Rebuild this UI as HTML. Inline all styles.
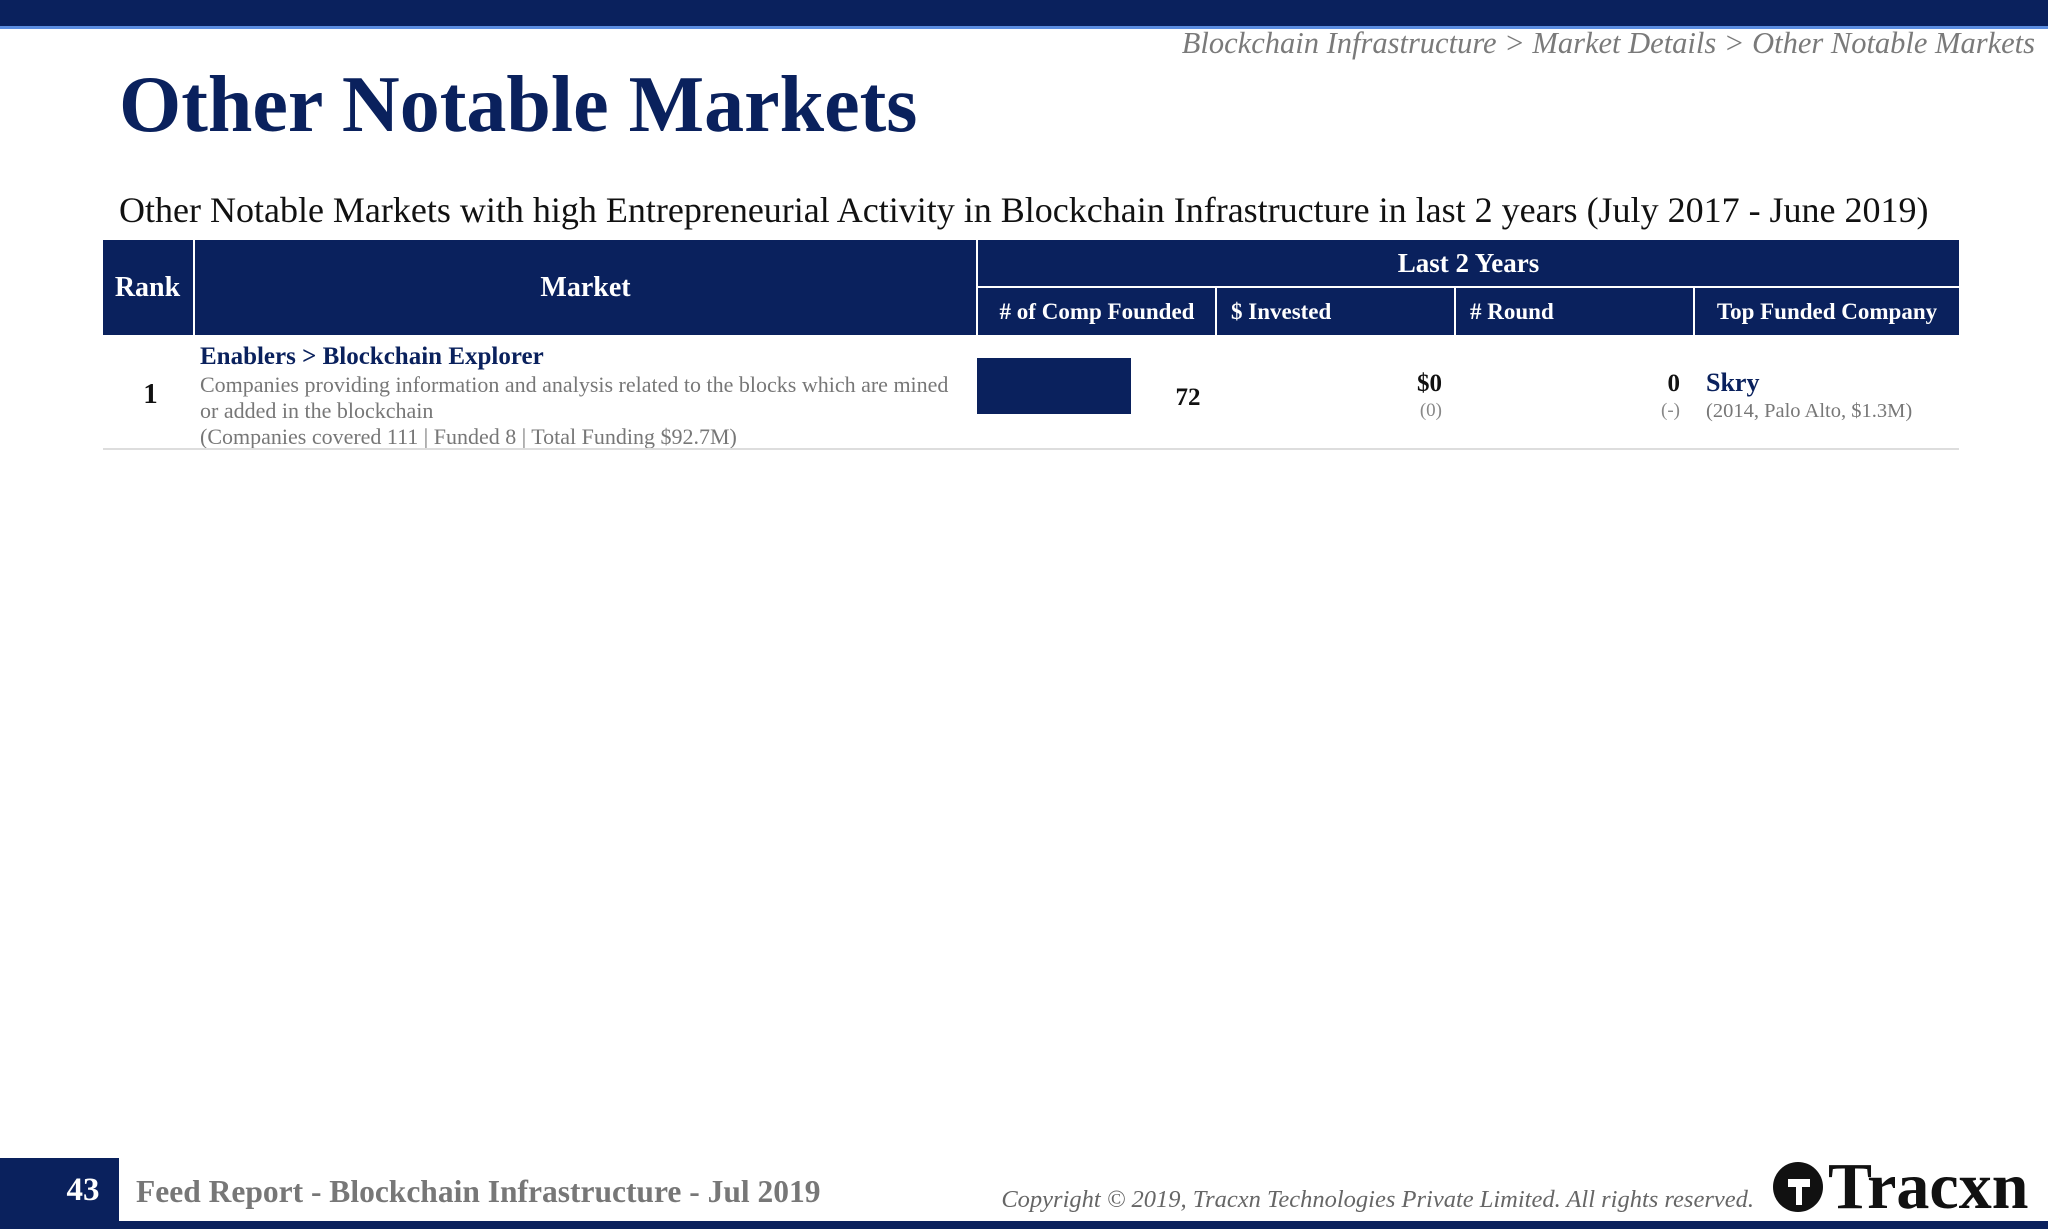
<!DOCTYPE html>
<html><head><meta charset="utf-8">
<style>
*{margin:0;padding:0;box-sizing:border-box}
body{width:2048px;height:1229px;background:#fff;position:relative;overflow:hidden;font-family:"Liberation Serif",serif;color:#111}
.abs{position:absolute;white-space:nowrap}
.navy{background:#0a215d}
</style></head>
<body>
<div class="abs navy" style="left:0;top:0;width:2048px;height:26px"></div>
<div class="abs" style="left:0;top:26px;width:2048px;height:3px;background:#5b8de0"></div>
<div class="abs" style="right:13px;top:26px;font-size:30.5px;font-style:italic;color:#7a7a7a">Blockchain Infrastructure &gt; Market Details &gt; Other Notable Markets</div>
<div class="abs" style="left:119px;top:60px;font-size:80px;font-weight:bold;color:#0a215d">Other Notable Markets</div>
<div class="abs" style="left:119px;top:189px;font-size:36px;color:#111">Other Notable Markets with high Entrepreneurial Activity in Blockchain Infrastructure in last 2 years (July 2017 - June 2019)</div>

<div class="abs navy" style="left:103px;top:240px;width:1856px;height:95px"></div>
<div class="abs" style="left:103px;top:240px;width:89px;height:95px;color:#fff;font-weight:bold;font-size:28px;display:flex;align-items:center;justify-content:center">Rank</div>
<div class="abs" style="left:193px;top:240px;width:783px;height:95px;border-left:2px solid #fff;color:#fff;font-weight:bold;font-size:28px;display:flex;align-items:center;justify-content:center">Market</div>
<div class="abs" style="left:976px;top:240px;width:983px;height:48px;border-left:2px solid #fff;border-bottom:2px solid #fff;color:#fff;font-weight:bold;font-size:27px;display:flex;align-items:center;justify-content:center">Last 2 Years</div>
<div class="abs" style="left:976px;top:288px;width:240px;height:47px;border-left:2px solid #fff;color:#fff;font-weight:bold;font-size:23px;display:flex;align-items:center;justify-content:center"># of Comp Founded</div>
<div class="abs" style="left:1215px;top:288px;width:239px;height:47px;border-left:2px solid #fff;color:#fff;font-weight:bold;font-size:23px;display:flex;align-items:center;padding-left:14px">$ Invested</div>
<div class="abs" style="left:1454px;top:288px;width:240px;height:47px;border-left:2px solid #fff;color:#fff;font-weight:bold;font-size:23px;display:flex;align-items:center;padding-left:14px"># Round</div>
<div class="abs" style="left:1693px;top:288px;width:266px;height:47px;border-left:2px solid #fff;color:#fff;font-weight:bold;font-size:23px;display:flex;align-items:center;justify-content:center">Top Funded Company</div>

<div class="abs" style="left:103px;top:378px;width:95px;text-align:center;font-size:29px;font-weight:bold">1</div>
<div class="abs" style="left:200px;top:343px;font-size:25px;font-weight:bold;color:#0a215d">Enablers &gt; Blockchain Explorer</div>
<div class="abs" style="left:200px;top:372px;font-size:22px;color:#777;line-height:26px">Companies providing information and analysis related to the blocks which are mined<br>or added in the blockchain<br>(Companies covered 111 | Funded 8 | Total Funding $92.7M)</div>
<svg class="abs" id="bars" style="left:976px;top:336px" width="240" height="112"></svg>
<div class="abs" style="right:606px;top:370px;font-size:25px;font-weight:bold;text-align:right">$0</div>
<div class="abs" style="right:606px;top:400px;font-size:19px;color:#888">(0)</div>
<div class="abs" style="right:368px;top:370px;font-size:25px;font-weight:bold">0</div>
<div class="abs" style="right:368px;top:400px;font-size:19px;color:#888">(-)</div>
<div class="abs" style="left:1706px;top:368px;font-size:26px;font-weight:bold;color:#0a215d">Skry</div>
<div class="abs" style="left:1706px;top:400px;font-size:20.5px;color:#777">(2014, Palo Alto, $1.3M)</div>
<div class="abs" style="left:103px;top:448px;width:1856px;height:2px;background:#ddd"></div>

<div class="abs navy" style="left:0;top:1158px;width:119px;height:71px"></div>
<div class="abs" style="left:0;top:1172px;width:166px;text-align:center;font-size:33px;font-weight:bold;color:#fff">43</div>
<div class="abs navy" style="left:0;top:1221px;width:2048px;height:8px"></div>
<div class="abs" style="left:136px;top:1174px;font-size:31.5px;font-weight:bold;color:#777">Feed Report - Blockchain Infrastructure - Jul 2019</div>
<div class="abs" style="right:294px;top:1186px;font-size:24.5px;font-style:italic;color:#666">Copyright © 2019, Tracxn Technologies Private Limited. All rights reserved.</div>
<div class="abs" style="left:1770px;top:1156px;height:62px;display:flex;align-items:center">
<svg width="56" height="60" viewBox="0 0 56 60"><circle cx="28" cy="30" r="25" fill="#111"/><path d="M18 22 L40 22 L40 30 L32 30 L32 48 L26 48 L26 30 L18 30Z" fill="#fff"/></svg>
<span style="font-size:66px;font-weight:bold;color:#111;margin-left:2px">Tracxn</span></div>

<script>
const categories = ["Enablers > Blockchain Explorer"];
const compFounded = [72];
const valueLabels = ["72"];
const svg = document.getElementById('bars');
const NS = 'http://www.w3.org/2000/svg';
const maxVal = 72, barMax = 154;
function xScale(v){ return v / maxVal * barMax; }
compFounded.forEach((v, i) => {
  const r = document.createElementNS(NS, 'rect');
  r.setAttribute('x', 1);
  r.setAttribute('y', 22);
  r.setAttribute('width', xScale(v));
  r.setAttribute('height', 56);
  r.setAttribute('fill', '#0a215d');
  
  
  svg.appendChild(r);
  const t = document.createElementNS(NS, 'text');
  t.setAttribute('x', xScale(v) + 58);
  t.setAttribute('y', 69);
  t.setAttribute('text-anchor', 'middle');
  t.setAttribute('font-family', 'Liberation Serif, serif');
  t.setAttribute('font-weight', 'bold');
  t.setAttribute('font-size', '25');
  t.setAttribute('fill', '#111');
  t.textContent = valueLabels[i];
  
  
  svg.appendChild(t);
});
</script>
</body></html>
